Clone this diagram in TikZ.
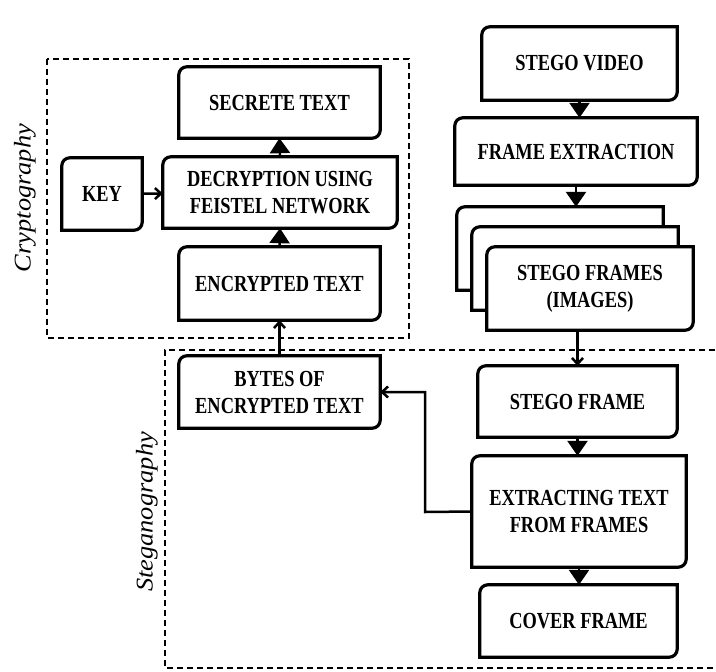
\documentclass[tikz,border=0pt]{standalone}
\usepackage{fontspec}
\setmainfont{Liberation Serif}[FakeStretch=0.8]
\newfontfamily\lblfont{Liberation Serif}[FakeStretch=1.1]
\usetikzlibrary{arrows.meta}
% box outline: round top left and bottom right corners only
\newcommand{\boxedge}[1]{%
  \draw[edge] (#1.south west) -- (#1.north west) -- (#1.north east);
  \draw[edge] (#1.north east) -- (#1.south east) -- (#1.south west);}
\begin{document}
\begin{tikzpicture}[x=1pt,y=-1pt,
    blk/.style={align=center,inner sep=0pt,fill=white,
      font=\fontsize{23}{27}\selectfont\bfseries},
    edge/.style={line width=3.2pt,rounded corners=8pt,line cap=rect},
    tri/.style={line width=2.5pt,-{Triangle[width=20pt,length=15pt]}},
    arr/.style={line width=2.5pt,-{Straight Barb[length=6pt,width=11pt]}},
    zone/.style={line width=1.2pt,dash pattern=on 6pt off 4pt},
    lbl/.style={rotate=90,font=\lblfont\itshape\fontsize{24}{26}\selectfont}]
  \useasboundingbox (0,0) rectangle (716,672);
  % dashed areas
  \draw[zone] (47,59) rectangle (409,338);
  \draw[zone] (725,350) -- (165,350) -- (165,668) -- (725,668);
  \node[lbl] (crlbl) at (25,198) {Cryptography};
  \node[lbl] (stlbl) at (147,512) {Steganography};
  % cryptography part
  \node[blk,minimum width=201pt,minimum height=71pt] (sec) at (279.5,102.5) {SECRETE TEXT};
  \node[blk,minimum width=234pt,minimum height=71pt] (dec) at (280,192.5) {DECRYPTION USING\\FEISTEL NETWORK};
  \node[blk,minimum width=80pt,minimum height=72pt] (key) at (102,194) {KEY};
  \node[blk,minimum width=201pt,minimum height=73pt] (enc) at (279.5,283.5) {ENCRYPTED TEXT};
  \node[blk,minimum width=201pt,minimum height=72pt] (byt) at (279.5,392) {BYTES OF\\ENCRYPTED TEXT};
  \foreach \n in {sec,dec,key,enc,byt} {\boxedge{\n}}
  % steganography part
  \node[blk,minimum width=195pt,minimum height=73pt] (vid) at (579.5,63.5) {STEGO VIDEO};
  \node[blk,minimum width=242pt,minimum height=67pt] (ext) at (576,151.5) {FRAME EXTRACTION};
  \node[blk,minimum width=206pt,minimum height=83pt] (frm3) at (560,248.5) {};
  \boxedge{frm3}
  \node[blk,minimum width=206pt,minimum height=83pt] (frm2) at (575,268.5) {};
  \boxedge{frm2}
  \node[blk,minimum width=206pt,minimum height=83pt] (frm1) at (590,288.5) {STEGO FRAMES\\(IMAGES)};
  \boxedge{frm1}
  \node[blk,minimum width=199pt,minimum height=71pt] (sfr) at (577.5,401.5) {STEGO FRAME};
  \node[blk,minimum width=214pt,minimum height=111pt] (xtr) at (579,511.5) {EXTRACTING TEXT\\FROM FRAMES};
  \node[blk,minimum width=197pt,minimum height=72pt] (cov) at (578.5,621) {COVER FRAME};
  \foreach \n in {vid,ext,sfr,xtr,cov} {\boxedge{\n}}
  \coordinate (bend) at (425,512);
  % connectors
  \draw[arr] (key) -- (dec);
  \draw[tri] (enc.north) -- (dec.south);
  \draw[tri] (dec.north) -- (sec.south);
  \draw[arr] (byt.north) -- (enc.south);
  \draw[tri] (vid.south) -- (vid.south |- ext.north);
  \draw[tri] (ext.south) -- (ext.south |- frm3.north);
  \draw[arr] (frm1.south -| sfr.north) -- (sfr.north);
  \draw[tri] (sfr.south) -- (sfr.south |- xtr.north);
  \draw[tri] (xtr.south) -- (xtr.south |- cov.north);
  \draw[arr] (xtr.west) -- (bend) |- (byt.east);
\end{tikzpicture}
\end{document}
